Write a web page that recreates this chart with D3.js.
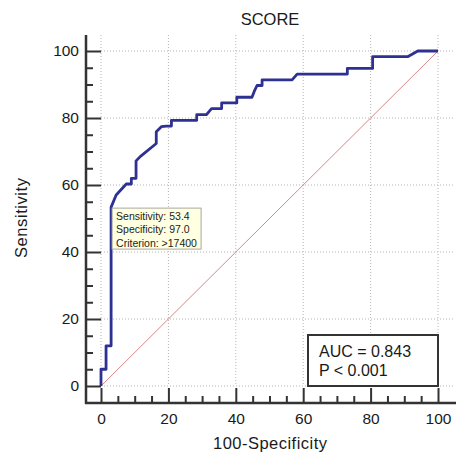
<!DOCTYPE html>
<html>
<head>
<meta charset="utf-8">
<script src="https://cdn.jsdelivr.net/npm/d3@7"></script>
<style>
  html, body { margin: 0; padding: 0; background: #ffffff; }
  svg { display: block; font-family: "Liberation Sans", Arial, sans-serif; }
</style>
</head>
<body>
<svg id="chart" width="456" height="453"></svg>
<script>
// ---- data ----
const fprValues = [0, 0, 1.5, 1.5, 3.0, 3.0, 4.5, 7.5, 9.0, 9.0, 10.4, 10.4, 11.9, 16.4, 16.4, 17.9, 19.4, 20.9, 20.9, 28.4, 28.4, 31.3, 32.8, 35.8, 35.8, 40.3, 40.3, 44.8, 45.5, 46.3, 47.8, 47.8, 56.7, 58.2, 73.1, 73.1, 80.6, 80.6, 91.0, 94.0, 100];
const sensValues = [0, 5.0, 5.0, 12.0, 12.0, 53.4, 57.0, 60.3, 60.3, 62.0, 62.0, 67.2, 68.7, 72.4, 75.9, 77.4, 77.6, 77.6, 79.3, 79.3, 81.0, 81.0, 82.8, 82.8, 84.5, 84.5, 86.2, 86.2, 88.0, 89.7, 89.7, 91.4, 91.4, 93.1, 93.1, 94.8, 94.8, 98.3, 98.3, 100, 100];
const majorTicks = [0, 20, 40, 60, 80, 100];
const minorTicks = [5, 10, 15, 25, 30, 35, 45, 50, 55, 65, 70, 75, 85, 90, 95];
const titleText = "SCORE";
const xLabel = "100-Specificity";
const yLabel = "Sensitivity";
const criterionPoint = [3.0, 53.4];
const criterionLines = ["Sensitivity: 53.4", "Specificity: 97.0", "Criterion: >17400"];
const statLines = ["AUC = 0.843", "P < 0.001"];

// ---- layout ----
const svg = d3.select("#chart");
const x = d3.scaleLinear().domain([0, 100]).range([101, 438]);
const y = d3.scaleLinear().domain([0, 100]).range([386, 51]);
const axisX = 86, axisY = 403;
const ink = "#1a1a1a";

// grid
const grid = svg.append("g").attr("stroke", "#b4b4b4").attr("stroke-width", 1).attr("stroke-dasharray", "1,2");
grid.selectAll("line.v").data(majorTicks).join("line")
  .attr("x1", d => x(d)).attr("x2", d => x(d))
  .attr("y1", 35).attr("y2", y(0));
grid.selectAll("line.h").data(majorTicks).join("line")
  .attr("x1", x(0)).attr("x2", 453)
  .attr("y1", d => y(d)).attr("y2", d => y(d));

// diagonal reference
svg.append("line")
  .attr("x1", x(0)).attr("y1", y(0)).attr("x2", x(100)).attr("y2", y(100))
  .attr("stroke", "#d8868a").attr("stroke-width", 1);

// ROC curve
const pts = fprValues.map((v, i) => [v, sensValues[i]]);
svg.append("path")
  .datum(pts)
  .attr("d", d3.line().x(d => x(d[0])).y(d => y(d[1])))
  .attr("fill", "none").attr("stroke", "#2e3192").attr("stroke-width", 2.8)
  .attr("stroke-linejoin", "round");

// axes
function styleAxis(g) {
  g.select(".domain").remove();
  g.selectAll(".tick line").attr("stroke", "#333").attr("stroke-width", 2);
  g.selectAll(".tick text").attr("fill", ink).style("font-size", "15.5px");
}
svg.append("g").attr("transform", `translate(${axisX},0)`)
  .call(d3.axisLeft(y).tickValues(majorTicks).tickSize(-15).tickPadding(7).tickFormat(d3.format("d")))
  .call(styleAxis);
svg.append("g").attr("transform", `translate(${axisX},0)`)
  .call(d3.axisLeft(y).tickValues(minorTicks).tickSize(-7).tickFormat(""))
  .call(styleAxis);
svg.append("g").attr("transform", `translate(0,${axisY})`)
  .call(d3.axisBottom(x).tickValues(majorTicks).tickSize(-15).tickPadding(10).tickFormat(d3.format("d")))
  .call(styleAxis);
svg.append("g").attr("transform", `translate(0,${axisY})`)
  .call(d3.axisBottom(x).tickValues(minorTicks).tickSize(-7).tickFormat(""))
  .call(styleAxis);
svg.append("line").attr("x1", axisX).attr("x2", axisX).attr("y1", 35).attr("y2", axisY + 1)
  .attr("stroke", "#333").attr("stroke-width", 2.5);
svg.append("line").attr("x1", axisX - 1).attr("x2", 456).attr("y1", axisY).attr("y2", axisY)
  .attr("stroke", "#333").attr("stroke-width", 2.5);

// titles
svg.append("text").attr("x", 270).attr("y", 25).attr("text-anchor", "middle")
  .attr("fill", ink).style("font-size", "16.5px").text(titleText);
svg.append("text").attr("x", 270).attr("y", 449).attr("text-anchor", "middle")
  .attr("fill", ink).style("font-size", "16.5px").attr("textLength", 114).text(xLabel);
svg.append("text").attr("transform", "translate(27,218) rotate(-90)").attr("text-anchor", "middle")
  .attr("fill", ink).style("font-size", "16.5px").attr("textLength", 80).text(yLabel);

// criterion tooltip
const tx = x(criterionPoint[0]) + 1, ty = y(criterionPoint[1]) + 1;
svg.append("rect").attr("x", tx).attr("y", ty).attr("width", 89).attr("height", 41)
  .attr("fill", "#ffffe1").attr("stroke", "#a8a8a0").attr("stroke-width", 1);
svg.append("g").selectAll("text").data(criterionLines).join("text")
  .attr("x", tx + 4).attr("y", (d, i) => ty + 12 + i * 13.3)
  .attr("fill", "#222").style("font-size", "10.5px").text(d => d);

// AUC box
svg.append("rect").attr("x", 308).attr("y", 335).attr("width", x(100) - 308).attr("height", y(0) - 335)
  .attr("fill", "#ffffff").attr("stroke", "#333").attr("stroke-width", 2);
svg.append("g").selectAll("text").data(statLines).join("text")
  .attr("x", 319).attr("y", (d, i) => 357 + i * 19)
  .attr("fill", ink).style("font-size", "16px").text(d => d);
</script>
</body>
</html>
